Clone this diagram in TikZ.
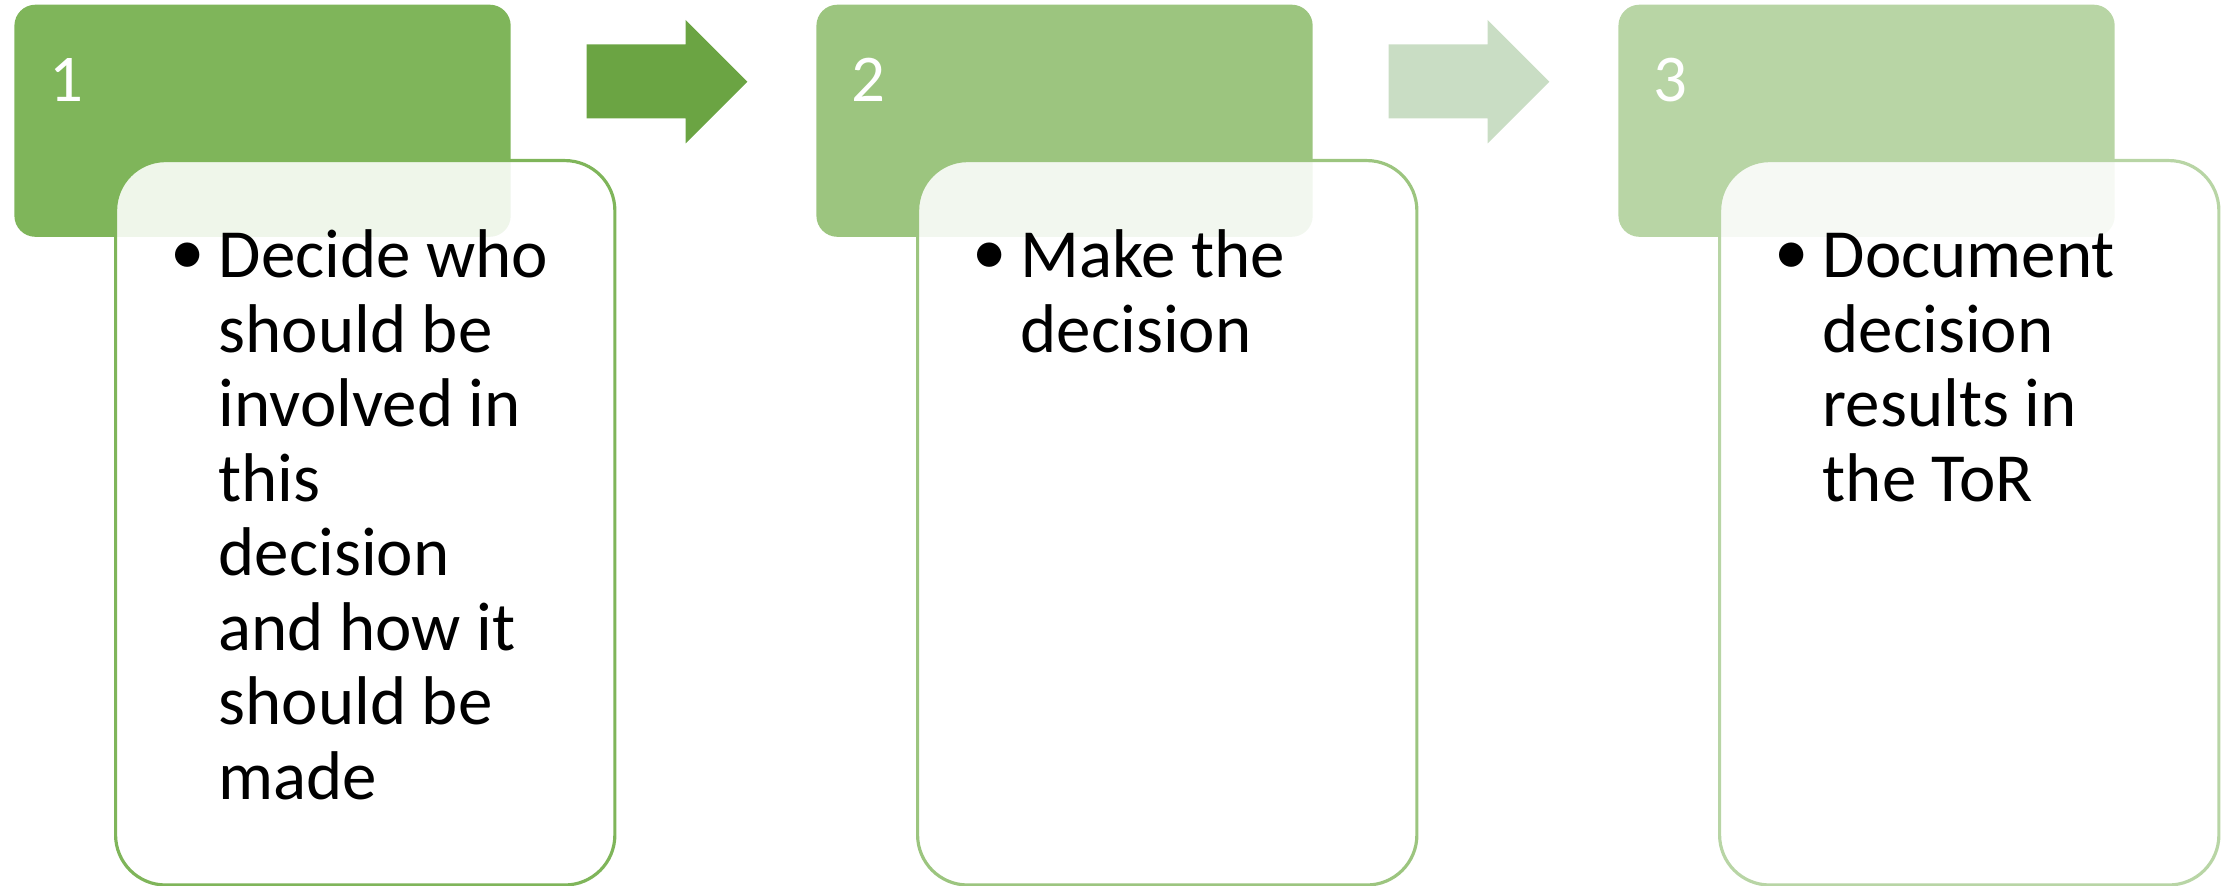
\documentclass[tikz,border=0pt]{standalone}
\usepackage{fontspec}
\setmainfont{Carlito}
\usepackage{tikz}

\definecolor{headA}{HTML}{7FB55A}
\definecolor{headB}{HTML}{9CC57F}
\definecolor{headC}{HTML}{B8D5A5}
\definecolor{arrowA}{HTML}{6BA443}
\definecolor{arrowB}{HTML}{C9DDC4}

\begin{document}
\begin{tikzpicture}[x=0.01cm,y=-0.01cm,
    head/.style={rectangle, rounded corners=0.21cm, inner sep=0pt, minimum width=4.96cm, minimum height=2.32cm, anchor=north west},
    card/.style={rectangle, rounded corners=0.5cm, draw, line width=0.9pt, fill=white, fill opacity=0.88, inner sep=0pt, minimum width=4.99cm, minimum height=7.24cm, anchor=north west},
    num/.style={anchor=base west, inner sep=0pt, text=white, font=\fontsize{19}{19}\selectfont},
    dot/.style={anchor=base west, inner sep=0pt, font=\fontsize{19.6}{21.2}\selectfont},
    item/.style={anchor=north west, inner sep=0pt, align=left, font=\fontsize{19.6}{21.2}\selectfont}]

    \useasboundingbox (0,0) rectangle (2231,886);

    \node[head, fill=headA] (head1) at (13.7,4) {};
    \node[head, fill=headB] (head2) at (815.7,4) {};
    \node[head, fill=headC] (head3) at (1617.7,4) {};

    \node[num] (num1) at (49,102) {1};
    \node[num] (num2) at (851,102) {2};
    \node[num] (num3) at (1653,102) {3};

    \node[card, draw=headA] (card1) at (114,159) {};
    \node[card, draw=headB] (card2) at (916,159) {};
    \node[card, draw=headC] (card3) at (1718,159) {};

    \fill[arrowA] (586.7,44.3) -- (685.7,44.3) -- (685.7,20) -- (747.3,81.7) -- (685.7,143.3) -- (685.7,118.3) -- (586.7,118.3) -- cycle;
    \fill[arrowB] (1388.7,44.3) -- (1487.7,44.3) -- (1487.7,20) -- (1549.3,81.7) -- (1487.7,143.3) -- (1487.7,118.3) -- (1388.7,118.3) -- cycle;

    \node[dot] (dot1) at (170,275) {•};
    \node[item] (text1) at (218,224.6) {\strut Decide who\\should be\\involved in\\this\\decision\\and how it\\should be\\made};
    \node[dot] (dot2) at (972,275) {•};
    \node[item] (text2) at (1020,224.6) {\strut Make the\\decision};
    \node[dot] (dot3) at (1774,275) {•};
    \node[item] (text3) at (1822,224.6) {\strut Document\\decision\\results in\\the ToR};
\end{tikzpicture}
\end{document}
